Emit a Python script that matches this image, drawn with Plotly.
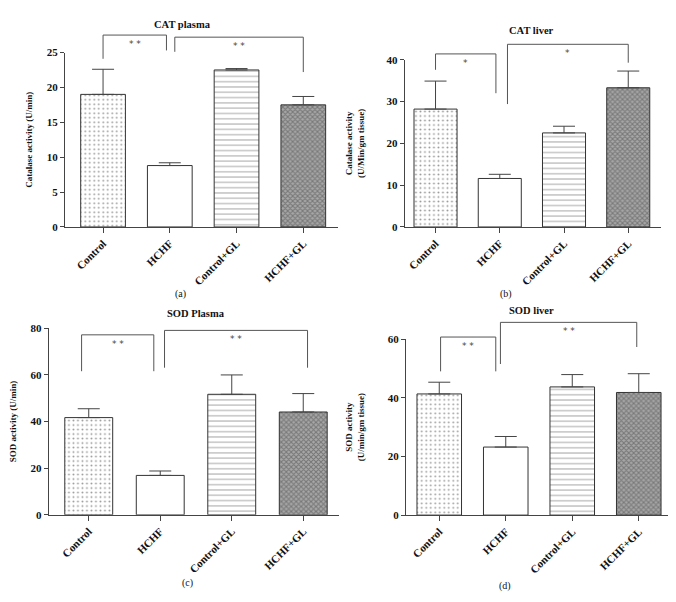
import plotly.graph_objects as go

# ---------------- data ----------------
categories = ["Control", "HCHF", "Control+GL", "HCHF+GL"]

cat_plasma = [19.0, 8.8, 22.5, 17.5]
cat_plasma_err = [3.6, 0.4, 0.2, 1.2]

cat_liver = [28.2, 11.6, 22.5, 33.3]
cat_liver_err = [6.7, 1.0, 1.6, 4.0]

sod_plasma = [41.7, 16.9, 51.7, 44.1]
sod_plasma_err = [3.8, 1.9, 8.3, 7.9]

sod_liver = [41.3, 23.2, 43.7, 41.8]
sod_liver_err = [4.0, 3.6, 4.2, 6.4]

# significance brackets: (x_start, x_end, top, left leg bottom, right leg bottom, label)
brackets_a = [(0.0, 0.95, 27.5, 24.1, 25.3, "* *"), (1.075, 3.0, 27.2, 25.1, 22.2, "* *")]
brackets_b = [(0.0, 0.94, 41.4, 37.6, 32.0, "*"), (1.12, 3.0, 43.7, 29.4, 39.3, "*")]
brackets_c = [(-0.1, 0.91, 77.2, 61.6, 61.6, "* *"), (1.06, 3.06, 79.1, 63.1, 63.1, "* *")]
brackets_d = [(0.02, 0.85, 60.7, 49.0, 49.0, "* *"), (0.92, 2.97, 65.7, 51.5, 57.3, "* *")]

panel_titles = ["CAT plasma", "CAT liver", "SOD Plasma", "SOD liver"]
panel_labels = ["(a)", "(b)", "(c)", "(d)"]
y_titles = ["Catalase activity (U/min)", "Catalase activity<br>(U/Min/gm tissue)",
            "SOD activity (U/min)", "SOD activity<br>(U/min/gm tissue)"]
y_ranges = [25, 40, 80, 60]
y_dticks = [5, 10, 20, 20]

# ---------------- layout geometry (pixels in a 676x602 canvas) ----------------
W, H = 676, 602
FONT = "Liberation Serif, Times New Roman, serif"
panels = [
    dict(x0=57, x1=330, ytop=39.3, ybot=217.3, xr=(-0.57, 3.52), title=(174, 11), label=(173, 286), standoff=12),
    dict(x0=396.7, x1=653, ytop=46.7, ybot=217.3, xr=(-0.48, 3.51), title=(523, 17), label=(498, 286), standoff=20),
    dict(x0=40.7, x1=331, ytop=320.7, ybot=511, xr=(-0.56, 3.5), title=(188, 306), label=(179, 581), standoff=15),
    dict(x0=398, x1=668, ytop=331.7, ybot=511.3, xr=(-0.5, 3.56), title=(523, 303), label=(497, 584), standoff=21),
]
values = [cat_plasma, cat_liver, sod_plasma, sod_liver]
errors = [cat_plasma_err, cat_liver_err, sod_plasma_err, sod_liver_err]
brackets = [brackets_a, brackets_b, brackets_c, brackets_d]

xpos = list(range(len(categories)))
fill_colors = ["white", "white", "white", "#9a9a9a"]
patterns = [
    dict(shape=".", fgcolor="#333333", bgcolor="white", size=4.5, solidity=0.14),
    dict(shape=""),
    dict(shape="-", fgcolor="#555555", bgcolor="white", size=5.3, solidity=0.2),
    dict(shape="x", fgcolor="#444444", bgcolor="#a8a8a8", size=3.5, solidity=0.5),
]

fig = go.Figure()
layout = {}
shapes = []
annotations = []

for i, p in enumerate(panels):
    n = "" if i == 0 else str(i + 1)
    xa, ya = "x" + n, "y" + n
    for j in range(len(categories)):
        fig.add_trace(go.Bar(
            x=[xpos[j]], y=[values[i][j]], width=0.67,
            marker=dict(color=fill_colors[j], line=dict(color="#333333", width=1),
                        pattern=patterns[j]),
            error_y=dict(type="data", array=[errors[i][j]], arrayminus=[0], symmetric=False,
                         color="#444444", thickness=1, width=11),
            xaxis=xa, yaxis=ya, showlegend=False, hoverinfo="skip",
        ))
    layout["xaxis" + n] = dict(
        domain=[p["x0"] / W, p["x1"] / W], range=list(p["xr"]), anchor=ya,
        tickvals=xpos, ticktext=categories, tickangle=-45,
        showline=True, linecolor="#444444", linewidth=1, ticks="outside", ticklen=5,
        tickcolor="#444444", showgrid=False, zeroline=False,
        tickfont=dict(family=FONT, size=11, color="#111111", weight="bold"),
    )
    layout["yaxis" + n] = dict(
        domain=[1 - p["ybot"] / H, 1 - p["ytop"] / H], range=[0, y_ranges[i]], anchor=xa,
        dtick=y_dticks[i], tick0=0,
        showline=True, linecolor="#444444", linewidth=1, ticks="outside", ticklen=4,
        tickcolor="#444444", showgrid=False, zeroline=False,
        tickfont=dict(family=FONT, size=11, color="#111111", weight="bold"),
        title=dict(text=y_titles[i], standoff=p["standoff"],
                   font=dict(family=FONT, size=9, color="#111111", weight="bold")),
    )
    ymax = y_ranges[i]
    for (bx0, bx1, top, lb, rb, lab) in brackets[i]:
        shapes.append(dict(
            type="path", xref=xa, yref=ya + " domain",
            path=f"M {bx0},{lb/ymax} L {bx0},{top/ymax} L {bx1},{top/ymax} L {bx1},{rb/ymax}",
            line=dict(color="#555555", width=1),
        ))
        annotations.append(dict(
            x=(bx0 + bx1) / 2, y=top / ymax, xref=xa, yref=ya + " domain",
            text=lab, showarrow=False, yanchor="top", yshift=-2,
            font=dict(family="DejaVu Sans, sans-serif", size=9, color="#444444"),
        ))
    annotations.append(dict(
        x=p["title"][0] / W, y=1 - p["title"][1] / H, xref="paper", yref="paper",
        text=panel_titles[i], showarrow=False, xanchor="center", yanchor="middle",
        font=dict(family=FONT, size=10.5, color="#111111", weight="bold"),
    ))
    annotations.append(dict(
        x=p["label"][0] / W, y=1 - p["label"][1] / H, xref="paper", yref="paper",
        text=panel_labels[i], showarrow=False, xanchor="center", yanchor="middle",
        font=dict(family=FONT, size=10, color="#111111"),
    ))

fig.update_layout(
    width=W, height=H, margin=dict(l=0, r=0, t=0, b=0),
    paper_bgcolor="white", plot_bgcolor="white",
    barmode="overlay", showlegend=False,
    shapes=shapes, annotations=annotations, **layout,
)

fig.write_html("out.html")
